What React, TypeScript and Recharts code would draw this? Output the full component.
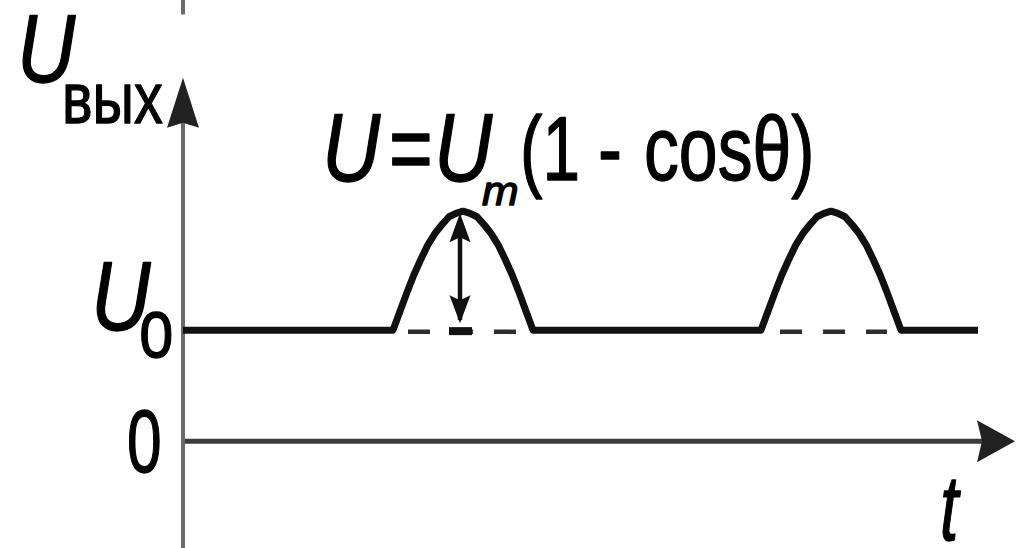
import React from 'react';
import { LineChart, Line, XAxis, YAxis, ReferenceLine, Customized } from 'recharts';

// Output voltage U_вых over time t: a constant level U0 with two cosine-shaped pulses.
const times = [
  0.0,
  2.1, 2.17, 2.24, 2.31, 2.38, 2.45, 2.52, 2.59, 2.66, 2.73, 2.8,
  2.87, 2.94, 3.01, 3.08, 3.15, 3.22, 3.29, 3.36, 3.43, 3.5,
  5.78, 5.85, 5.92, 5.99, 6.06, 6.13, 6.2, 6.27, 6.34, 6.41, 6.48,
  6.55, 6.62, 6.69, 6.76, 6.83, 6.9, 6.97, 7.04, 7.11, 7.18,
  7.95,
];
const volts = [
  1.0,
  1.0, 1.17, 1.34, 1.5, 1.64, 1.77, 1.87, 1.95, 2.02, 2.05, 2.07,
  2.05, 2.02, 1.95, 1.87, 1.77, 1.64, 1.5, 1.34, 1.17, 1.0,
  1.0, 1.17, 1.34, 1.5, 1.64, 1.77, 1.87, 1.95, 2.02, 2.05, 2.07,
  2.05, 2.02, 1.95, 1.87, 1.77, 1.64, 1.5, 1.34, 1.17, 1.0,
  1.0,
];

// U0 level continued under each pulse (dashed)
const levelU0 = 0.985;
const dashedStarts = [2.25, 5.97];
const dashedEnds = [3.33, 7.04];

// amplitude marker U_m on the first pulse
const markerT = 2.77;
const markerFrom = 1.0;
const markerTo = 2.07;

// axes extents
const T_MIN = 0;
const T_MAX = 8.36;
const V_MIN = -0.96;
const V_MAX = 3.97;
const tAxisEnd = 8.32;
const vAxisEnd = 3.27;
const vAxisStub = [3.84, 3.97];

const data = times.map((t, i) => ({ t, v: volts[i] }));

const FONT = 'Liberation Sans, Arial, sans-serif';

type SegProps = { x1: number; y1: number; x2: number; y2: number };

const arrowLine =
  (len: number, half: number, lineColor: string, headColor: string, width: number) =>
  (p: SegProps) => {
    const { x1, y1, x2, y2 } = p;
    const dx = x2 - x1;
    const dy = y2 - y1;
    const L = Math.hypot(dx, dy) || 1;
    const ux = dx / L;
    const uy = dy / L;
    const bx = x2 - ux * len;
    const by = y2 - uy * len;
    const px = -uy;
    const py = ux;
    const nx = bx + ux * 5;
    const ny = by + uy * 5;
    return (
      <g>
        <line x1={x1} y1={y1} x2={nx} y2={ny} stroke={lineColor} strokeWidth={width} />
        <polygon
          points={`${x2},${y2} ${bx + px * half},${by + py * half} ${nx},${ny} ${bx - px * half},${by - py * half}`}
          fill={headColor}
        />
      </g>
    );
  };

const plainLine = (color: string, width: number) => (p: SegProps) => (
  <line x1={p.x1} y1={p.y1} x2={p.x2} y2={p.y2} stroke={color} strokeWidth={width} />
);

const dashedLine = (p: SegProps) => (
  <line
    x1={p.x1}
    y1={p.y1}
    x2={p.x2}
    y2={p.y2}
    stroke="#2e2e2e"
    strokeWidth={4.5}
    strokeDasharray="22 21"
  />
);

// double-headed amplitude marker with a foot bar on the U0 level
const amplitudeMarker = (p: SegProps) => {
  const { x1, y1, y2 } = p;
  const x = x1;
  const half = 10.5;
  return (
    <g fill="#111">
      <line x1={x} y1={y2 + 10} x2={x} y2={y1 - 10} stroke="#111" strokeWidth={4.5} />
      <polygon points={`${x},${y2 + 2} ${x - half},${y2 + 31} ${x},${y2 + 26} ${x + half},${y2 + 31}`} />
      <polygon points={`${x},${y1 - 7} ${x - half},${y1 - 35} ${x},${y1 - 30} ${x + half},${y1 - 35}`} />
      <rect x={x - 11} y={y1 - 3} width={23} height={8} />
    </g>
  );
};

type Piece = { x: number; y: number; size: number; sx: number; italic?: boolean; text: string };

const pieces: Piece[] = [
  { x: 17, y: 82, size: 96, sx: 0.84, italic: true, text: 'U' },
  { x: 62, y: 123, size: 72, sx: 0.8, text: 'вых' },
  { x: 322, y: 181, size: 96, sx: 0.84, italic: true, text: 'U' },
  { x: 389, y: 181, size: 96, sx: 0.78, text: '=' },
  { x: 434, y: 181, size: 96, sx: 0.84, italic: true, text: 'U' },
  { x: 482, y: 205, size: 40, sx: 1.1, italic: true, text: 'm' },
  { x: 520, y: 180, size: 90, sx: 0.75, text: '(1' },
  { x: 598, y: 180, size: 90, sx: 0.8, text: '-' },
  { x: 644, y: 180, size: 90, sx: 0.775, text: 'cosθ)' },
  { x: 91, y: 330, size: 98, sx: 0.84, italic: true, text: 'U' },
  { x: 139, y: 357, size: 84, sx: 0.74, text: 'o' },
  { x: 127, y: 472, size: 89, sx: 0.7, text: '0' },
  { x: 940, y: 540, size: 92, sx: 0.72, italic: true, text: 't' },
];

const Labels = () => (
  <g>
    {pieces.map((p, i) => (
      <text
        key={i}
        x={0}
        y={0}
        transform={`translate(${p.x},${p.y}) scale(${p.sx},1)`}
        fontFamily={FONT}
        fontSize={p.size}
        fontStyle={p.italic ? 'italic' : 'normal'}
        fill="#000"
        stroke="#000"
        strokeWidth={1.3}
        strokeLinejoin="round"
      >
        {p.text}
      </text>
    ))}
  </g>
);

export default function App() {
  return (
    <div
      style={{
        position: 'absolute',
        left: 0,
        top: 0,
        width: 1019,
        height: 548,
        background: '#fff',
        overflow: 'hidden',
      }}
    >
      <LineChart
        width={1019}
        height={548}
        data={data}
        margin={{ top: 0, right: 0, bottom: 0, left: 183 }}
      >
        <XAxis dataKey="t" type="number" domain={[T_MIN, T_MAX]} hide allowDataOverflow />
        <YAxis type="number" domain={[V_MIN, V_MAX]} hide allowDataOverflow />
        <ReferenceLine
          segment={[{ x: 0, y: vAxisStub[0] }, { x: 0, y: vAxisStub[1] }]}
          shape={plainLine('#6a6a6a', 4)}
          ifOverflow="visible"
        />
        <ReferenceLine
          segment={[{ x: 0, y: V_MIN }, { x: 0, y: vAxisEnd }]}
          shape={arrowLine(50, 16, '#6a6a6a', '#222', 4)}
          ifOverflow="visible"
        />
        <ReferenceLine
          segment={[{ x: 0.02, y: 0 }, { x: tAxisEnd, y: 0 }]}
          shape={arrowLine(38, 21, '#3c3c3c', '#222', 5)}
          ifOverflow="visible"
        />
        {dashedStarts.map((s, i) => (
          <ReferenceLine
            key={i}
            segment={[{ x: s, y: levelU0 }, { x: dashedEnds[i], y: levelU0 }]}
            shape={dashedLine}
            ifOverflow="visible"
          />
        ))}
        <ReferenceLine
          segment={[{ x: markerT, y: markerFrom }, { x: markerT, y: markerTo }]}
          shape={amplitudeMarker}
          ifOverflow="visible"
        />
        <Line
          dataKey="v"
          type="linear"
          stroke="#111"
          strokeWidth={7}
          strokeLinejoin="round"
          dot={false}
          activeDot={false}
          isAnimationActive={false}
        />
        <Customized component={<Labels />} />
      </LineChart>
    </div>
  );
}
